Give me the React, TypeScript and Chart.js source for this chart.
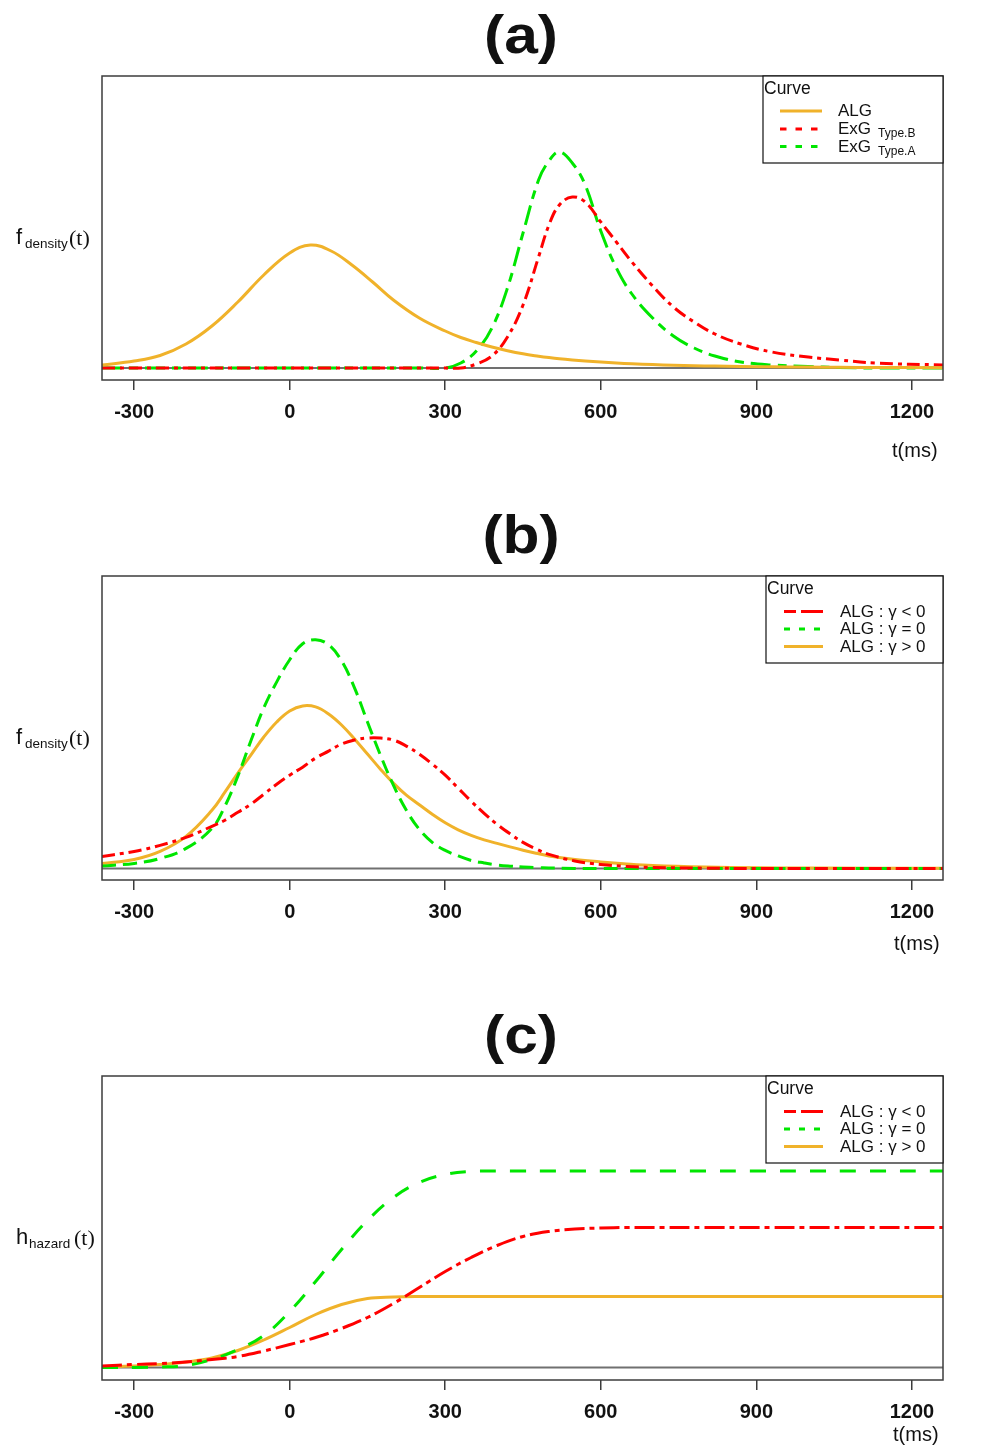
import React, { useEffect, useRef } from 'react';
import { Chart, registerables } from 'chart.js';

Chart.register(...registerables);

const SANS = '"Liberation Sans", Arial, Helvetica, sans-serif';
const SERIF = '"Liberation Serif", "Times New Roman", serif';

const ORANGE = '#F0B22A';
const RED = '#FF0000';
const GREEN = '#00E600';

// shared time axis (ms)
const xTicks = [-300, 0, 300, 600, 900, 1200];
const xMin = -362;
const xMax = 1260;

// (a) density: ALG vs ExG
const tA = [
  -362, -300, -250, -200, -150, -100, -50, 0, 40, 80, 120, 160, 200, 250, 300, 330, 360, 390, 420,
  450, 480, 500, 520, 545, 570, 600, 630, 660, 700, 740, 780, 820, 870, 930, 1000, 1060, 1130, 1260,
];
const algA = [
  3, 7, 12.5, 24, 42, 66, 93, 115, 123, 117, 103, 86, 68, 50, 37, 30.5, 25.5, 21, 17.3, 14.2, 11.8,
  10.4, 9.2, 8, 7, 5.9, 5, 4.2, 3.4, 2.8, 2.3, 1.9, 1.5, 1.2, 0.9, 0.7, 0.5, 0.3,
];
const exgTypeB = [
  0, 0, 0, 0, 0, 0, 0, 0, 0, 0, 0, 0, 0, 0, 0, 0, 4, 12, 31, 63, 111, 143, 163, 171, 166, 146, 126,
  106, 82, 61, 46, 34, 24, 16, 11, 8, 5, 3,
];
const exgTypeA = [
  0, 0, 0, 0, 0, 0, 0, 0, 0, 0, 0, 0, 0, 0, 0, 5, 17, 40, 80, 135, 188, 207, 216, 205, 183, 137, 100,
  74, 50, 32, 20, 12, 6, 3, 1.5, 0.5, 0, 0,
];

// (b) density: ALG for gamma < 0, = 0, > 0
const tB = [
  -362, -300, -250, -200, -150, -125, -100, -75, -50, -25, 0, 25, 50, 75, 100, 125, 150, 175, 200,
  225, 250, 275, 300, 325, 350, 375, 400, 425, 450, 475, 500, 550, 600, 650, 700, 800, 900, 1000, 1260,
];
const densNeg = [
  12, 17, 23, 31, 42, 48, 56, 64, 74, 84, 93, 101, 110, 117, 124, 128, 130, 130, 128, 122, 114, 104,
  93, 80, 67, 55, 44, 34.5, 26, 19.5, 14, 7.5, 4, 2, 1, 0.3, 0, 0, 0,
];
const densZero = [
  2.5, 5, 10, 20, 40, 62, 92, 127, 160, 186, 208, 224, 228, 223, 207, 180, 146, 113, 83, 58, 39, 26,
  18, 12.5, 8, 5.5, 3.5, 2.3, 1.5, 0.9, 0.5, 0, 0, 0, 0, 0, 0, 0, 0,
];
const densPos = [
  5, 9, 17, 32, 58, 76, 95, 113, 131, 146, 157, 162, 161, 154, 143, 129, 114, 99, 85, 73, 63.5, 54,
  45.5, 38.5, 33, 28.5, 25, 21.5, 18.2, 15.2, 12.5, 9, 6.5, 4.5, 3, 1.5, 0.8, 0.4, 0.1,
];

// (c) hazard: ALG for gamma < 0, = 0, > 0
const tC = [
  -362, -300, -250, -200, -150, -100, -50, 0, 50, 100, 150, 200, 250, 300, 350, 400, 450, 500, 550,
  600, 650, 700, 800, 900, 1000, 1100, 1260,
];
const hazNeg = [
  1.5, 3, 4, 5.5, 8, 11, 16.5, 23, 30, 39, 50, 64, 80, 96, 110, 122, 131, 136, 138.5, 139.5, 140, 140,
  140, 140, 140, 140, 140,
];
const hazZero = [
  0, 0, 0.5, 2, 8, 18, 32, 56, 86, 118, 147, 170, 185, 193, 196, 196.5, 196.5, 196.5, 196.5, 196.5,
  196.5, 196.5, 196.5, 196.5, 196.5, 196.5, 196.5,
];
const hazPos = [
  0.5, 1.5, 3, 5.5, 9.5, 17, 27.5, 40, 53, 63, 69, 70.5, 71, 71, 71, 71, 71, 71, 71, 71, 71, 71, 71,
  71, 71, 71, 71,
];

type Series = { label: string; data: number[]; color: string; dash: number[] };
type LegendItem = { text: string; sub?: string; color: string; dash: number[] };
type LegendSpec = {
  left: number;
  titleX: number;
  lineFrom: number;
  lineTo: number;
  textX: number;
  rows: number[];
  items: LegendItem[];
};

function framePlugin(spec: LegendSpec) {
  return {
    id: 'frame',
    beforeDatasetsDraw(chart: Chart) {
      const { ctx, chartArea: a } = chart;
      const y0 = chart.scales.y.getPixelForValue(0);
      ctx.save();
      ctx.strokeStyle = '#707070';
      ctx.lineWidth = 2;
      ctx.beginPath();
      ctx.moveTo(a.left, y0);
      ctx.lineTo(a.right, y0);
      ctx.stroke();
      ctx.restore();
    },
    afterDraw(chart: Chart) {
      const { ctx, chartArea: a } = chart;
      ctx.save();
      ctx.strokeStyle = '#3c3c3c';
      ctx.lineWidth = 1.5;
      ctx.strokeRect(a.left, a.top, a.right - a.left, a.bottom - a.top);

      // legend hangs from the top-right corner of the plot box
      const top = a.top;
      const w = a.right - spec.left;
      const h = 87;
      ctx.fillStyle = '#fff';
      ctx.fillRect(spec.left, top, w, h);
      ctx.strokeStyle = '#111';
      ctx.lineWidth = 1.2;
      ctx.strokeRect(spec.left, top, w, h);

      ctx.fillStyle = '#111';
      ctx.textBaseline = 'alphabetic';
      ctx.font = `17.5px ${SANS}`;
      ctx.fillText('Curve', spec.titleX, top + 18);

      spec.items.forEach((it, i) => {
        const y = top + spec.rows[i];
        ctx.strokeStyle = it.color;
        ctx.lineWidth = 3;
        ctx.setLineDash(it.dash);
        ctx.beginPath();
        ctx.moveTo(spec.lineFrom, y);
        ctx.lineTo(spec.lineTo, y);
        ctx.stroke();
        ctx.setLineDash([]);
        ctx.font = `17px ${SANS}`;
        ctx.fillText(it.text, spec.textX, y + 5);
        if (it.sub) {
          const tw = ctx.measureText(it.text).width;
          ctx.font = `12px ${SANS}`;
          ctx.fillText(it.sub, spec.textX + tw + 7, y + 8);
        }
      });
      ctx.restore();
    },
  };
}

type PanelProps = {
  top: number;
  height: number;
  t: number[];
  series: Series[];
  yMin: number;
  yMax: number;
  legend: LegendSpec;
};

const Panel: React.FC<PanelProps> = ({ top, height, t, series, yMin, yMax, legend }) => {
  const canvasRef = useRef<HTMLCanvasElement | null>(null);

  useEffect(() => {
    const canvas = canvasRef.current;
    if (!canvas) return;

    const chart = new Chart(canvas, {
      type: 'line',
      data: {
        datasets: series.map((s) => ({
          label: s.label,
          data: t.map((x, i) => ({ x, y: s.data[i] })),
          borderColor: s.color,
          borderWidth: 3,
          borderDash: s.dash,
          pointRadius: 0,
          fill: false,
          tension: 0.4,
        })),
      },
      options: {
        responsive: false,
        animation: false,
        layout: { padding: { left: 102, right: 46, top: 76, bottom: 0 } },
        plugins: {
          legend: { display: false },
          tooltip: { enabled: false },
          title: { display: false },
        },
        scales: {
          x: {
            type: 'linear',
            min: xMin,
            max: xMax,
            afterBuildTicks: (axis: any) => {
              axis.ticks = xTicks.map((v) => ({ value: v }));
            },
            afterFit: (axis: any) => {
              axis.height = height - 380;
            },
            grid: {
              drawOnChartArea: false,
              drawTicks: true,
              tickLength: 10,
              color: '#3c3c3c',
              lineWidth: 1.5,
            },
            border: { display: false },
            ticks: {
              callback: (v: any) => String(v),
              font: { family: SANS, size: 20, weight: 'bold' },
              color: '#111',
              padding: 10,
              maxRotation: 0,
              autoSkip: false,
            },
          },
          y: { type: 'linear', display: false, min: yMin, max: yMax },
        },
      },
      plugins: [framePlugin(legend)],
    });

    return () => {
      chart.destroy();
    };
  }, []);

  return (
    <canvas
      ref={canvasRef}
      width={989}
      height={height}
      style={{ position: 'absolute', left: 0, top, width: 989, height }}
    />
  );
};

const Txt: React.FC<{
  x: number;
  base: number;
  size: number;
  serif?: boolean;
  children: React.ReactNode;
}> = ({ x, base, size, serif, children }) => {
  const asc = serif ? 0.8375 : 0.8465;
  return (
    <div
      style={{
        position: 'absolute',
        left: x,
        top: base - asc * size,
        fontSize: size,
        lineHeight: `${size}px`,
        fontFamily: serif ? SERIF : SANS,
        color: '#111',
        whiteSpace: 'nowrap',
      }}
    >
      {children}
    </div>
  );
};

const Title: React.FC<{ base: number; text: string }> = ({ base, text }) => (
  <div
    style={{
      position: 'absolute',
      left: 421,
      width: 200,
      textAlign: 'center',
      top: base - 0.8465 * 54,
      fontSize: 54,
      lineHeight: '54px',
      fontFamily: SANS,
      fontWeight: 700,
      color: '#111',
      transform: 'scaleX(1.12)',
    }}
  >
    {text}
  </div>
);

const legendA: LegendSpec = {
  left: 763,
  titleX: 764,
  lineFrom: 780,
  lineTo: 822,
  textX: 838,
  rows: [35, 53, 70.5],
  items: [
    { text: 'ALG', color: ORANGE, dash: [] },
    { text: 'ExG', sub: 'Type.B', color: RED, dash: [6.5, 9] },
    { text: 'ExG', sub: 'Type.A', color: GREEN, dash: [6.5, 9] },
  ],
};

const legendGamma = (redDash: number[]): LegendSpec => ({
  left: 766,
  titleX: 767,
  lineFrom: 784,
  lineTo: 823,
  textX: 840,
  rows: [35.5, 53, 70.5],
  items: [
    { text: 'ALG : γ < 0', color: RED, dash: redDash },
    { text: 'ALG : γ = 0', color: GREEN, dash: [6, 9] },
    { text: 'ALG : γ > 0', color: ORANGE, dash: [] },
  ],
});

const YLabel: React.FC<{ top: number; main: string; sub: string; subX: number; parenX: number }> = ({
  top,
  main,
  sub,
  subX,
  parenX,
}) => (
  <>
    <Txt x={16} base={top + 245} size={22}>
      {main}
    </Txt>
    <Txt x={subX} base={top + 248} size={13.5}>
      {sub}
    </Txt>
    <Txt x={parenX} base={top + 245} size={22} serif>
      (t)
    </Txt>
  </>
);

export default function App() {
  return (
    <div
      style={{
        position: 'absolute',
        left: 0,
        top: 0,
        width: 989,
        height: 1455,
        background: '#fff',
        overflow: 'hidden',
      }}
    >
      <Panel
        top={0}
        height={500}
        t={tA}
        yMin={-12}
        yMax={292}
        legend={legendA}
        series={[
          { label: 'ALG', data: algA, color: ORANGE, dash: [] },
          { label: 'ExG Type.B', data: exgTypeB, color: RED, dash: [13, 5, 4, 5] },
          { label: 'ExG Type.A', data: exgTypeA, color: GREEN, dash: [20, 7, 9, 7] },
        ]}
      />
      <Panel
        top={500}
        height={500}
        t={tB}
        yMin={-11.5}
        yMax={291.5}
        legend={legendGamma([12, 5, 23, 60])}
        series={[
          { label: 'ALG:γ<0', data: densNeg, color: RED, dash: [13, 5, 4, 5] },
          { label: 'ALG:γ=0', data: densZero, color: GREEN, dash: [14, 7] },
          { label: 'ALG:γ>0', data: densPos, color: ORANGE, dash: [] },
        ]}
      />
      <Panel
        top={1000}
        height={455}
        t={tC}
        yMin={-12.5}
        yMax={291.5}
        legend={legendGamma([12, 5, 23, 60])}
        series={[
          { label: 'ALG:γ<0', data: hazNeg, color: RED, dash: [20, 5, 5, 5] },
          { label: 'ALG:γ=0', data: hazZero, color: GREEN, dash: [16, 14] },
          { label: 'ALG:γ>0', data: hazPos, color: ORANGE, dash: [] },
        ]}
      />

      <Title base={53} text="(a)" />
      <Title base={553} text="(b)" />
      <Title base={1053} text="(c)" />

      <YLabel top={0} main="f" sub="density" subX={25} parenX={69} />
      <YLabel top={500} main="f" sub="density" subX={25} parenX={69} />
      <YLabel top={1000} main="h" sub="hazard" subX={29} parenX={74} />

      <Txt x={892} base={457} size={20}>
        t(ms)
      </Txt>
      <Txt x={894} base={950} size={20}>
        t(ms)
      </Txt>
      <Txt x={893} base={1441} size={20}>
        t(ms)
      </Txt>
    </div>
  );
}
